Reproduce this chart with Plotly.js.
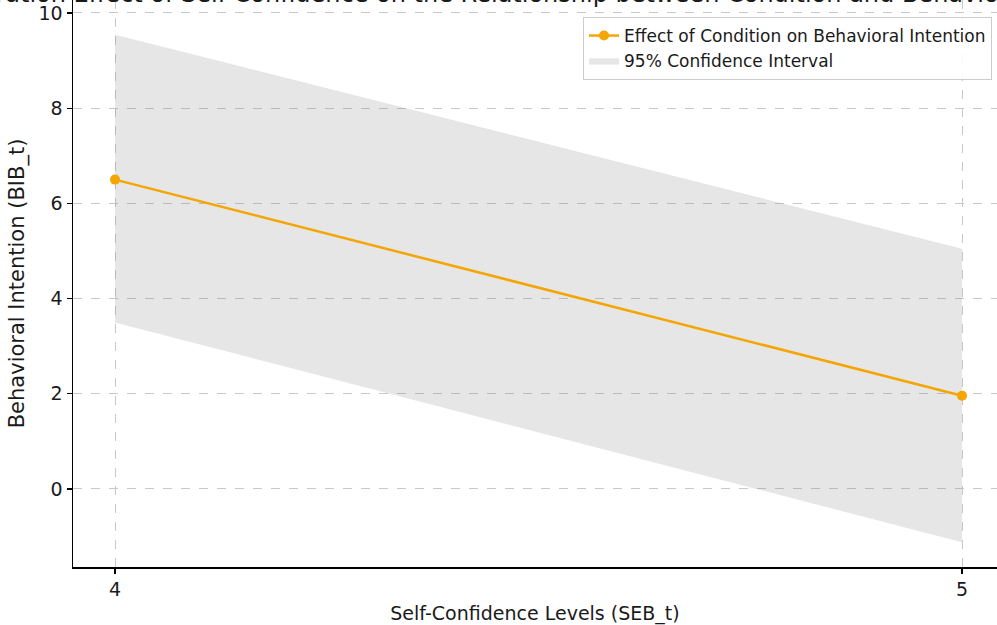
<!DOCTYPE html>
<html>
<head>
<meta charset="utf-8">
<script src="https://cdn.plot.ly/plotly-3.0.1.min.js"></script>
<style>html,body{margin:0;padding:0;background:#fff;}#chart{width:997px;height:625px;}</style>
</head>
<body>
<div id="chart"></div>
<script>
// Data
const selfConfidence = [4, 5];
const effect = [6.5, 1.96];
const ciLower = [3.5, -1.12];
const ciUpper = [9.54, 5.04];

const lineName = 'Effect of Condition on Behavioral Intention';
const ciName = '95% Confidence Interval';
const titleText = 'Moderation Effect of Self-Confidence on the Relationship between Condition and Behavioral Intention';
const xTitle = 'Self-Confidence Levels (SEB_t)';
const yTitle = 'Behavioral Intention (BIB_t)';
const xTicks = [4, 5];
const yTicks = [0, 2, 4, 6, 8, 10];

const font = 'DejaVu Sans, sans-serif';

const traces = [
  {
    x: selfConfidence, y: ciLower, mode: 'lines', type: 'scatter',
    line: {width: 0, color: 'rgba(128,128,128,0)'},
    showlegend: false, hoverinfo: 'skip'
  },
  {
    x: selfConfidence, y: ciUpper, mode: 'lines', type: 'scatter',
    fill: 'tonexty', fillcolor: 'rgba(128,128,128,0.2)',
    line: {width: 0.5, color: 'rgba(128,128,128,0.12)'},
    name: ciName, legendrank: 2
  },
  {
    x: selfConfidence, y: effect, mode: 'lines+markers', type: 'scatter',
    line: {color: '#f5a500', width: 2.5},
    marker: {color: '#f5a500', size: 10},
    name: lineName, legendrank: 1
  }
];

const layout = {
  width: 997, height: 625,
  margin: {l: 73, r: 0, t: 0, b: 58},
  paper_bgcolor: '#ffffff', plot_bgcolor: '#ffffff',
  font: {family: font, color: '#1a1a1a', size: 18},
  annotations: [{
    text: titleText, xref: 'paper', yref: 'paper',
    x: 0.503, y: 0.9825, xanchor: 'center', yanchor: 'bottom',
    showarrow: false, font: {family: font, size: 24, color: '#1a1a1a'}
  }],
  xaxis: {
    range: [3.9504, 5.0413], tickvals: xTicks, ticktext: xTicks.map(String),
    showline: true, linecolor: '#000', linewidth: 1.5, mirror: false,
    ticks: 'outside', ticklen: 5, tickwidth: 1.2, tickcolor: '#000',
    showgrid: true, gridcolor: '#c8c8c8', griddash: 'dash', gridwidth: 1,
    zeroline: false, tickfont: {size: 19, family: font},
    title: {text: xTitle, font: {size: 19, family: font}, standoff: 8}
  },
  yaxis: {
    range: [-1.639, 10.273], tickvals: yTicks, ticktext: yTicks.map(String),
    showline: true, linecolor: '#000', linewidth: 1.5, mirror: false,
    ticks: 'outside', ticklen: 5, tickwidth: 1.2, tickcolor: '#000',
    showgrid: true, gridcolor: '#c8c8c8', griddash: 'dash', gridwidth: 1,
    zeroline: false, tickfont: {size: 19, family: font},
    title: {text: yTitle, font: {size: 21, family: font}, standoff: 8}
  },
  legend: {
    x: 0.9946, xanchor: 'right', y: 0.97, yanchor: 'top',
    bgcolor: 'rgba(255,255,255,0.85)', bordercolor: '#cccccc', borderwidth: 1,
    font: {size: 17, family: font, color: '#1a1a1a'},
    traceorder: 'normal', tracegroupgap: 0
  },
  showlegend: true
};

Plotly.newPlot('chart', traces, layout, {displayModeBar: false, staticPlot: true});
</script>
</body>
</html>
